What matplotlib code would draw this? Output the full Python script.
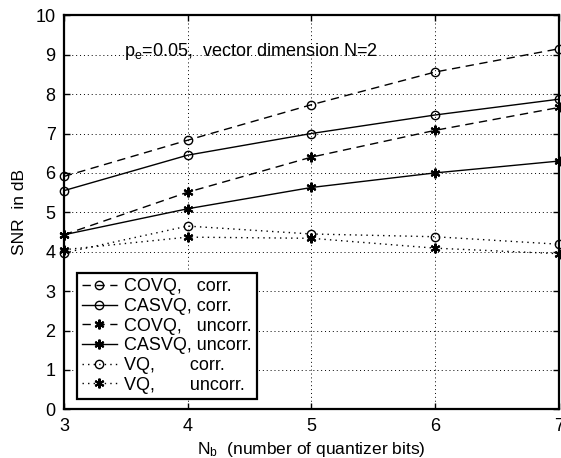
import matplotlib
matplotlib.use("Agg")
import matplotlib.pyplot as plt

plt.rcParams['font.family'] = ['Liberation Sans', 'DejaVu Sans']
plt.rcParams['mathtext.fontset'] = 'custom'
plt.rcParams['mathtext.rm'] = 'Liberation Sans'
plt.rcParams['mathtext.it'] = 'Liberation Sans'

# Daten
nb = [3, 4, 5, 6, 7]
covq_corr = [5.91, 6.83, 7.73, 8.56, 9.15]
casvq_corr = [5.55, 6.45, 7.00, 7.47, 7.87]
covq_uncorr = [4.43, 5.51, 6.40, 7.08, 7.66]
casvq_uncorr = [4.43, 5.09, 5.63, 6.00, 6.30]
vq_corr = [3.97, 4.65, 4.45, 4.38, 4.19]
vq_uncorr = [4.05, 4.37, 4.34, 4.09, 3.95]

labels = ["COVQ,   corr.", "CASVQ, corr.", "COVQ,   uncorr.",
          "CASVQ, uncorr.", "VQ,       corr.", "VQ,       uncorr."]

fig = plt.figure(figsize=(5.61, 4.58), dpi=100)
ax = fig.add_axes([0.114, 0.1063, 0.882, 0.8603])

star = (6, 2, 0)
dash = (6, 4)
lw = 1.0
ms_o = 6
ms_s = 7

ax.plot(nb, covq_corr, color='k', lw=lw, dashes=dash, marker='o', ms=ms_o,
        mfc='none', mec='k', label=labels[0], clip_on=False)
ax.plot(nb, casvq_corr, color='k', lw=lw, ls='-', marker='o', ms=ms_o,
        mfc='none', mec='k', label=labels[1], clip_on=False)
ax.plot(nb, covq_uncorr, color='k', lw=lw, dashes=dash, marker=star, ms=ms_s,
        mew=1.5, label=labels[2], clip_on=False)
ax.plot(nb, casvq_uncorr, color='k', lw=lw, ls='-', marker=star, ms=ms_s,
        mew=1.5, label=labels[3], clip_on=False)
ax.plot(nb, vq_corr, color='k', lw=lw, dashes=(1, 3), marker='o', ms=ms_o,
        mfc='none', mec='k', label=labels[4], clip_on=False)
ax.plot(nb, vq_uncorr, color='k', lw=lw, dashes=(1, 3), marker=star, ms=ms_s,
        mew=1.5, label=labels[5], clip_on=False)

ax.set_xlim(3, 7)
ax.set_ylim(0, 10)
ax.set_xticks(nb)
ax.set_yticks(range(0, 11))
ax.grid(True, color='k', ls=(0, (1, 3)), lw=0.7)
ax.tick_params(direction='in', length=4, top=True, right=True, labelsize=13,
               width=1, pad=6)
for s in ax.spines.values():
    s.set_linewidth(1.6)

ax.set_xlabel(r"N$_\mathrm{b}$  (number of quantizer bits)", fontsize=12.5, labelpad=4)
ax.set_ylabel("SNR  in dB", fontsize=12.5, labelpad=6)

ax.text(3.485, 8.97, r"p$_\mathrm{e}$=0.05,  vector dimension N=2", fontsize=13)

leg = ax.legend(loc='lower left', bbox_to_anchor=(0.026, 0.026), fontsize=13,
                handlelength=1.9, handletextpad=0.4, borderpad=0.3,
                labelspacing=0.15, fancybox=False, framealpha=1,
                borderaxespad=0)
leg.get_frame().set_edgecolor('k')
leg.get_frame().set_linewidth(1.6)

fig.savefig("out.png", dpi=100)
